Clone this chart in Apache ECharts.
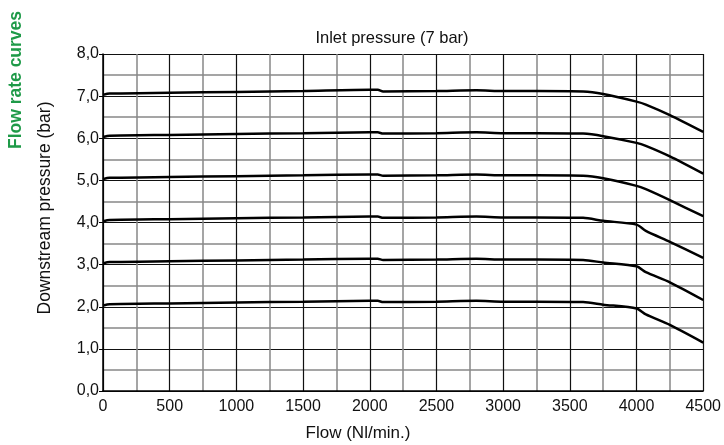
<!DOCTYPE html>
<html><head><meta charset="utf-8">
<script src="https://cdn.jsdelivr.net/npm/echarts@6/dist/echarts.min.js"></script>
<style>html,body{margin:0;padding:0;background:#fff}#c{width:724px;height:445px}</style>
</head><body><div id="c"></div>
<script>
const flow = [0, 50, 500, 1000, 1500, 2000, 2060, 2100, 2500, 2800, 3000, 3250, 3600, 3750, 4000, 4070, 4250, 4500];
const curve7 = [7.03, 7.06, 7.08, 7.10, 7.12, 7.15, 7.15, 7.11, 7.12, 7.14, 7.12, 7.12, 7.11, 7.05, 6.87, 6.80, 6.55, 6.15];
const curve6 = [6.03, 6.06, 6.08, 6.10, 6.12, 6.14, 6.14, 6.11, 6.12, 6.14, 6.12, 6.12, 6.11, 6.05, 5.89, 5.82, 5.57, 5.16];
const curve5 = [5.03, 5.06, 5.08, 5.10, 5.12, 5.14, 5.14, 5.11, 5.12, 5.14, 5.12, 5.12, 5.11, 5.05, 4.87, 4.79, 4.53, 4.15];
const curve4 = [4.03, 4.06, 4.08, 4.10, 4.12, 4.14, 4.14, 4.11, 4.12, 4.14, 4.12, 4.12, 4.11, 4.04, 3.95, 3.80, 3.54, 3.16];
const curve3 = [3.03, 3.06, 3.08, 3.10, 3.12, 3.14, 3.14, 3.11, 3.12, 3.14, 3.12, 3.12, 3.11, 3.05, 2.96, 2.82, 2.58, 2.16];
const curve2 = [2.03, 2.06, 2.08, 2.10, 2.12, 2.14, 2.14, 2.11, 2.12, 2.14, 2.12, 2.12, 2.11, 2.05, 1.96, 1.82, 1.57, 1.15];
const curves = [curve7, curve6, curve5, curve4, curve3, curve2];

const font = 'Liberation Sans, Arial, sans-serif';
const chart = echarts.init(document.getElementById('c'));
chart.setOption({
  animation: false,
  backgroundColor: '#fff',
  title: {
    text: 'Inlet pressure (7 bar)', left: 387, top: 25, textAlign: 'center',
    textStyle: {fontFamily: font, fontSize: 16.5, fontWeight: 'normal', color: '#111'}
  },
  graphic: [{
    type: 'text', x: 16, y: 80, rotation: Math.PI / 2,
    style: {text: 'Flow rate curves', font: 'bold 17.5px ' + font, fill: '#1e9a48', align: 'center', verticalAlign: 'middle'}
  }, {
    type: 'text', x: 45, y: 208, rotation: Math.PI / 2,
    style: {text: 'Downstream pressure (bar)', font: '17.5px ' + font, fill: '#111', align: 'center', verticalAlign: 'middle'}
  }, {
    type: 'text', x: 358, y: 433,
    style: {text: 'Flow (Nl/min.)', font: '17px ' + font, fill: '#111', align: 'center', verticalAlign: 'middle'}
  }],
  grid: {left: 103, right: 19, top: 54, bottom: 54},
  xAxis: {
    type: 'value', min: 0, max: 4500, interval: 500,
    axisLine: {lineStyle: {color: '#000', width: 1.5}},
    axisTick: {show: false},
    axisLabel: {fontFamily: font, fontSize: 16, color: '#111', margin: 8, formatter: v => String(v)},
    splitLine: {show: true, lineStyle: {color: '#111', width: 1.2}},
    minorTick: {show: false, splitNumber: 2},
    minorSplitLine: {show: true, lineStyle: {color: '#888', width: 1.5}}
  },
  yAxis: {
    type: 'value', min: 0, max: 8, interval: 1,
    axisLine: {show: true, lineStyle: {color: '#000', width: 1.5}},
    axisTick: {show: true, length: 4, lineStyle: {color: '#000'}},
    axisLabel: {fontFamily: font, fontSize: 16, color: '#111', margin: 4,
      formatter: v => v.toFixed(1).replace('.', ',')},
    splitLine: {show: true, lineStyle: {color: '#111', width: 1.2}},
    minorTick: {show: false, splitNumber: 2},
    minorSplitLine: {show: true, lineStyle: {color: '#888', width: 1.5}}
  },
  series: curves.map(c => ({
    type: 'line', data: flow.map((f, i) => [f, c[i]]), smooth: 0.25,
    showSymbol: false, lineStyle: {color: '#000', width: 2.5}
  }))
});
</script></body></html>
